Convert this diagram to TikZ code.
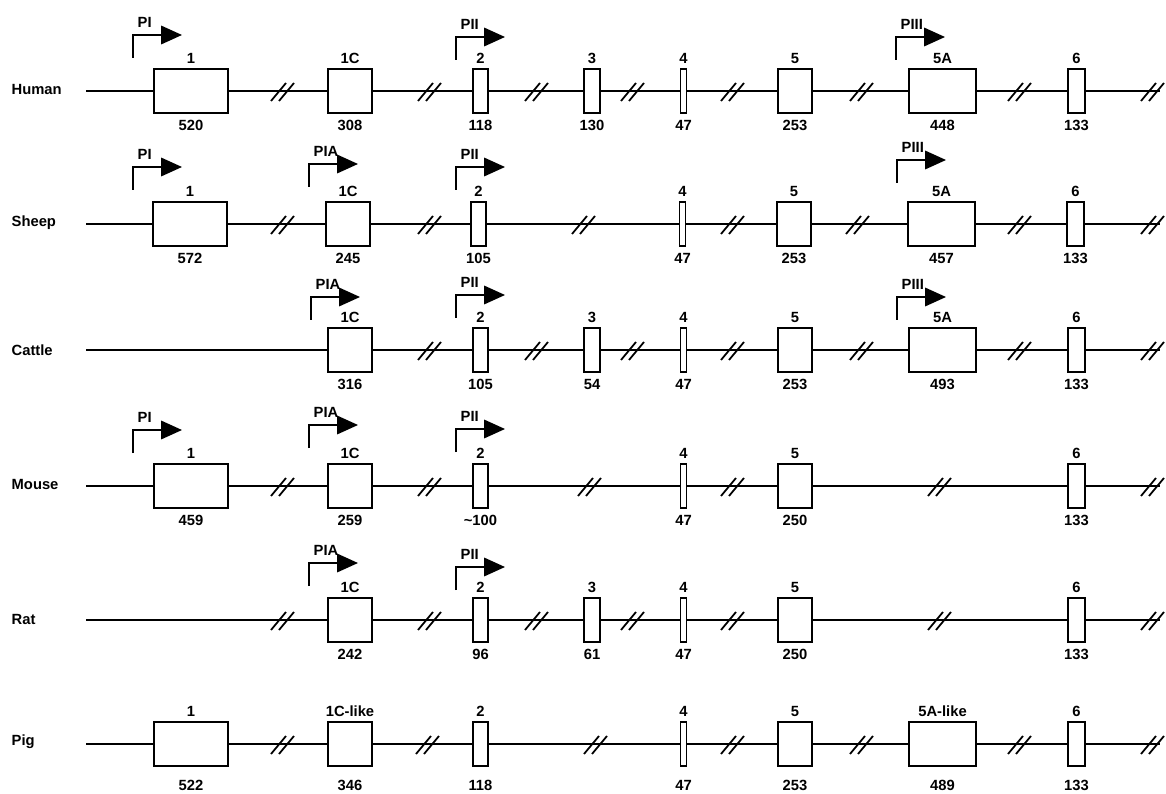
\documentclass[tikz,border=0pt]{standalone}
\usepackage{fontspec}
\setmainfont{Liberation Sans}
\usetikzlibrary{arrows.meta}
\tikzset{
  gtxt/.style={font=\bfseries\fontsize{10.5}{12}\selectfont, inner sep=1pt},
  species/.style={gtxt, anchor=west},
  dnaline/.style={line width=1.3pt},
  exon/.style={draw, fill=white, line width=1.3pt, inner sep=0pt,
    minimum height=1.08cm, minimum width=#1},
  up/.style={label={[gtxt, label distance=2.5pt]above:#1}},
  dn/.style={label={[gtxt, label distance=3.5pt]below:#1}},
  dnlow/.style={label={[gtxt, label distance=8.5pt]below:#1}},
  promline/.style={line width=1.3pt, -{Triangle[length=.52cm, width=.46cm]}},
  prom/.pic={\draw[promline] (0,0) |- (49,-23);
    \node[gtxt, anchor=west] at (3,-36) {\tikzpictext};},
  brk/.pic={\draw[line width=1.25pt] (-12,10) -- (3,-8) (-4,10) -- (11,-8);}
}

\begin{document}
\begin{tikzpicture}[x=0.025cm, y=-0.025cm]
\path[use as bounding box] (0,0) rectangle (1166,794);

% Human
\node[species] (hum) at (10,89) {Human};
\coordinate (humL) at (86,91); \coordinate (humR) at (1160,91);
\draw[dnaline] (humL) -- (humR);
\path (283,91) pic{brk} (430,91) pic{brk} (537,91) pic{brk} (633,91) pic{brk}
  (733,91) pic{brk} (862,91) pic{brk} (1020,91) pic{brk} (1153,91) pic{brk};
\node[exon=1.85cm, up=1, dn=520] (hum1) at (191,91) {};
\node[exon=1.1cm, up=1C, dn=308] (hum1c) at (350,91) {};
\node[exon=.38cm, up=2, dn=118] (hum2) at (480.5,91) {};
\node[exon=.4cm, up=3, dn=130] (hum3) at (592,91) {};
\node[exon=.15cm, up=4, dn=47] (hum4) at (683.5,91) {};
\node[exon=.85cm, up=5, dn=253] (hum5) at (795,91) {};
\node[exon=1.68cm, up=5A, dn=448] (hum5a) at (942.5,91) {};
\node[exon=.43cm, up=6, dn=133] (hum6) at (1076.5,91) {};
\path (133,58) pic[pic text=PI]{prom} (456,60) pic[pic text=PII]{prom}
  (896,60) pic[pic text=PIII]{prom};

% Sheep
\node[species] (shp) at (10,223) {Sheep};
\coordinate (shpL) at (86,224); \coordinate (shpR) at (1160,224);
\draw[dnaline] (shpL) -- (shpR);
\path (283,224) pic{brk} (430,224) pic{brk} (584,224) pic{brk} (733,224) pic{brk}
  (858,224) pic{brk} (1020,224) pic{brk} (1153,224) pic{brk};
\node[exon=1.85cm, up=1, dn=572] (shp1) at (190,224) {};
\node[exon=1.1cm, up=1C, dn=245] (shp1c) at (348,224) {};
\node[exon=.38cm, up=2, dn=105] (shp2) at (478.5,224) {};
\node[exon=.15cm, up=4, dn=47] (shp4) at (682.5,224) {};
\node[exon=.85cm, up=5, dn=253] (shp5) at (794,224) {};
\node[exon=1.68cm, up=5A, dn=457] (shp5a) at (941.5,224) {};
\node[exon=.43cm, up=6, dn=133] (shp6) at (1075.5,224) {};
\path (133,190) pic[pic text=PI]{prom} (309,187) pic[pic text=PIA]{prom}
  (456,190) pic[pic text=PII]{prom} (897,183) pic[pic text=PIII]{prom};

% Cattle
\node[species] (cat) at (10,350) {Cattle};
\coordinate (catL) at (86,350); \coordinate (catR) at (1160,350);
\draw[dnaline] (catL) -- (catR);
\path (430,350) pic{brk} (537,350) pic{brk} (633,350) pic{brk} (733,350) pic{brk}
  (862,350) pic{brk} (1020,350) pic{brk} (1153,350) pic{brk};
\node[exon=1.1cm, up=1C, dn=316] (cat1c) at (350,350) {};
\node[exon=.38cm, up=2, dn=105] (cat2) at (480.5,350) {};
\node[exon=.4cm, up=3, dn=54] (cat3) at (592,350) {};
\node[exon=.15cm, up=4, dn=47] (cat4) at (683.5,350) {};
\node[exon=.85cm, up=5, dn=253] (cat5) at (795,350) {};
\node[exon=1.68cm, up=5A, dn=493] (cat5a) at (942.5,350) {};
\node[exon=.43cm, up=6, dn=133] (cat6) at (1076.5,350) {};
\path (311,320) pic[pic text=PIA]{prom} (456,318) pic[pic text=PII]{prom}
  (897,320) pic[pic text=PIII]{prom};

% Mouse
\node[species] (mou) at (10,484) {Mouse};
\coordinate (mouL) at (86,486); \coordinate (mouR) at (1160,486);
\draw[dnaline] (mouL) -- (mouR);
\path (283,486) pic{brk} (430,486) pic{brk} (590,486) pic{brk} (733,486) pic{brk}
  (940,486) pic{brk} (1153,486) pic{brk};
\node[exon=1.85cm, up=1, dn=459] (mou1) at (191,486) {};
\node[exon=1.1cm, up=1C, dn=259] (mou1c) at (350,486) {};
\node[exon=.38cm, up=2, dn={\textasciitilde100}] (mou2) at (480.5,486) {};
\node[exon=.15cm, up=4, dn=47] (mou4) at (683.5,486) {};
\node[exon=.85cm, up=5, dn=250] (mou5) at (795,486) {};
\node[exon=.43cm, up=6, dn=133] (mou6) at (1076.5,486) {};
\path (133,453) pic[pic text=PI]{prom} (309,448) pic[pic text=PIA]{prom}
  (456,452) pic[pic text=PII]{prom};

% Rat
\node[species] (rat) at (10,619) {Rat};
\coordinate (ratL) at (86,620); \coordinate (ratR) at (1160,620);
\draw[dnaline] (ratL) -- (ratR);
\path (283,620) pic{brk} (430,620) pic{brk} (537,620) pic{brk} (633,620) pic{brk}
  (733,620) pic{brk} (940,620) pic{brk} (1153,620) pic{brk};
\node[exon=1.1cm, up=1C, dn=242] (rat1c) at (350,620) {};
\node[exon=.38cm, up=2, dn=96] (rat2) at (480.5,620) {};
\node[exon=.4cm, up=3, dn=61] (rat3) at (592,620) {};
\node[exon=.15cm, up=4, dn=47] (rat4) at (683.5,620) {};
\node[exon=.85cm, up=5, dn=250] (rat5) at (795,620) {};
\node[exon=.43cm, up=6, dn=133] (rat6) at (1076.5,620) {};
\path (309,586) pic[pic text=PIA]{prom} (456,590) pic[pic text=PII]{prom};

% Pig
\node[species] (pig) at (10,742) {Pig};
\coordinate (pigL) at (86,744); \coordinate (pigR) at (1160,744);
\draw[dnaline] (pigL) -- (pigR);
\path (283,744) pic{brk} (428,744) pic{brk} (596,744) pic{brk} (733,744) pic{brk}
  (862,744) pic{brk} (1020,744) pic{brk} (1153,744) pic{brk};
\node[exon=1.85cm, up=1, dnlow=522] (pig1) at (191,744) {};
\node[exon=1.1cm, up=1C-like, dnlow=346] (pig1c) at (350,744) {};
\node[exon=.38cm, up=2, dnlow=118] (pig2) at (480.5,744) {};
\node[exon=.15cm, up=4, dnlow=47] (pig4) at (683.5,744) {};
\node[exon=.85cm, up=5, dnlow=253] (pig5) at (795,744) {};
\node[exon=1.68cm, up=5A-like, dnlow=489] (pig5a) at (942.5,744) {};
\node[exon=.43cm, up=6, dnlow=133] (pig6) at (1076.5,744) {};
\end{tikzpicture}
\end{document}
